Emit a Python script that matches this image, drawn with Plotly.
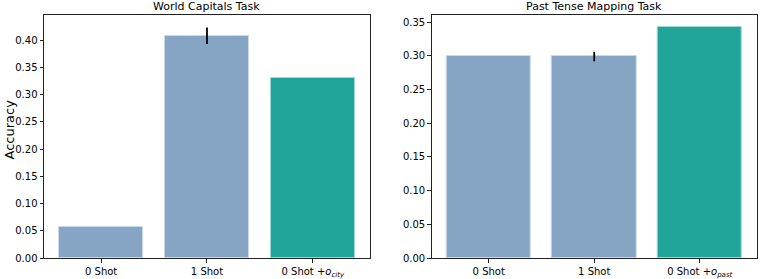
import plotly.graph_objects as go

categories = ["0 Shot", "1 Shot", "0 Shot +o"]
left_ticktext = ["0 Shot", "1 Shot", "0 Shot +<i>o</i><sub><i>city</i></sub>"]
right_ticktext = ["0 Shot", "1 Shot", "0 Shot +<i>o</i><sub><i>past</i></sub>"]
capitals_acc = [0.056, 0.408, 0.331]
capitals_err = [0.0, 0.015, 0.0]
past_acc = [0.300, 0.299, 0.342]
past_err = [0.0, 0.007, 0.0]
bar_colors = ["#86A5C4", "#86A5C4", "#21A59B"]
edge_colors = ["#C9D9EC", "#C9D9EC", "#9FD8D2"]
left_ticks = [0, 0.05, 0.10, 0.15, 0.20, 0.25, 0.30, 0.35, 0.40]
right_ticks = [0, 0.05, 0.10, 0.15, 0.20, 0.25, 0.30, 0.35]

fig = go.Figure()
xs = [0, 1, 2]

def add(vals, errs, xa, ya):
    fig.add_trace(go.Bar(
        x=xs, y=vals, width=0.8,
        marker=dict(color=bar_colors, line=dict(color=edge_colors, width=1)),
        error_y=dict(type="data", array=errs, visible=True, color="black",
                     thickness=1.8, width=0),
        xaxis=xa, yaxis=ya, showlegend=False, hoverinfo="skip"))

add(capitals_acc, capitals_err, "x", "y")
add(past_acc, past_err, "x2", "y2")

font = dict(family="DejaVu Sans", size=10, color="black")
axis_common = dict(showline=True, mirror=True, linecolor="#222", linewidth=1,
                   ticks="outside", ticklen=3.5, tickwidth=0.8, tickcolor="#222",
                   showgrid=False, zeroline=False, tickfont=font, automargin=False)

fig.update_layout(
    width=761, height=279,
    margin=dict(l=44, r=4, t=15, b=21),
    plot_bgcolor="white", paper_bgcolor="white",
    bargap=0,
    xaxis=dict(domain=[0, 0.4572], range=[-0.54, 2.54], tickvals=xs,
               ticktext=left_ticktext, **axis_common),
    yaxis=dict(domain=[0, 1], range=[0, 0.446], tickvals=left_ticks,
               ticktext=[f"{v:.2f}" for v in left_ticks], **axis_common),
    xaxis2=dict(domain=[0.5438, 0.9996], range=[-0.54, 2.54], tickvals=xs,
                ticktext=right_ticktext, anchor="y2", **axis_common),
    yaxis2=dict(domain=[0, 1], range=[0, 0.3605], tickvals=right_ticks,
                ticktext=[f"{v:.2f}" for v in right_ticks], anchor="x2", **axis_common),
    annotations=[
        dict(text="World Capitals Task", x=0.4572 / 2, y=1, xref="paper", yref="paper",
             xanchor="center", yanchor="bottom", yshift=0, showarrow=False,
             font=dict(family="DejaVu Sans", size=11, color="black")),
        dict(text="Past Tense Mapping Task", x=(0.5438 + 0.9996) / 2, y=1, xref="paper",
             yref="paper", xanchor="center", yanchor="bottom", yshift=0, showarrow=False,
             font=dict(family="DejaVu Sans", size=11, color="black")),
        dict(text="Accuracy", x=0, y=0.5, xref="paper", yref="paper", textangle=-90,
             xanchor="center", yanchor="middle", xshift=-35, yshift=7, showarrow=False,
             font=dict(family="DejaVu Sans", size=13, color="black")),
    ],
)

fig.write_html("out.html", config={"displayModeBar": False},
               post_script="document.body.style.margin='0';document.body.style.overflow='hidden';")
